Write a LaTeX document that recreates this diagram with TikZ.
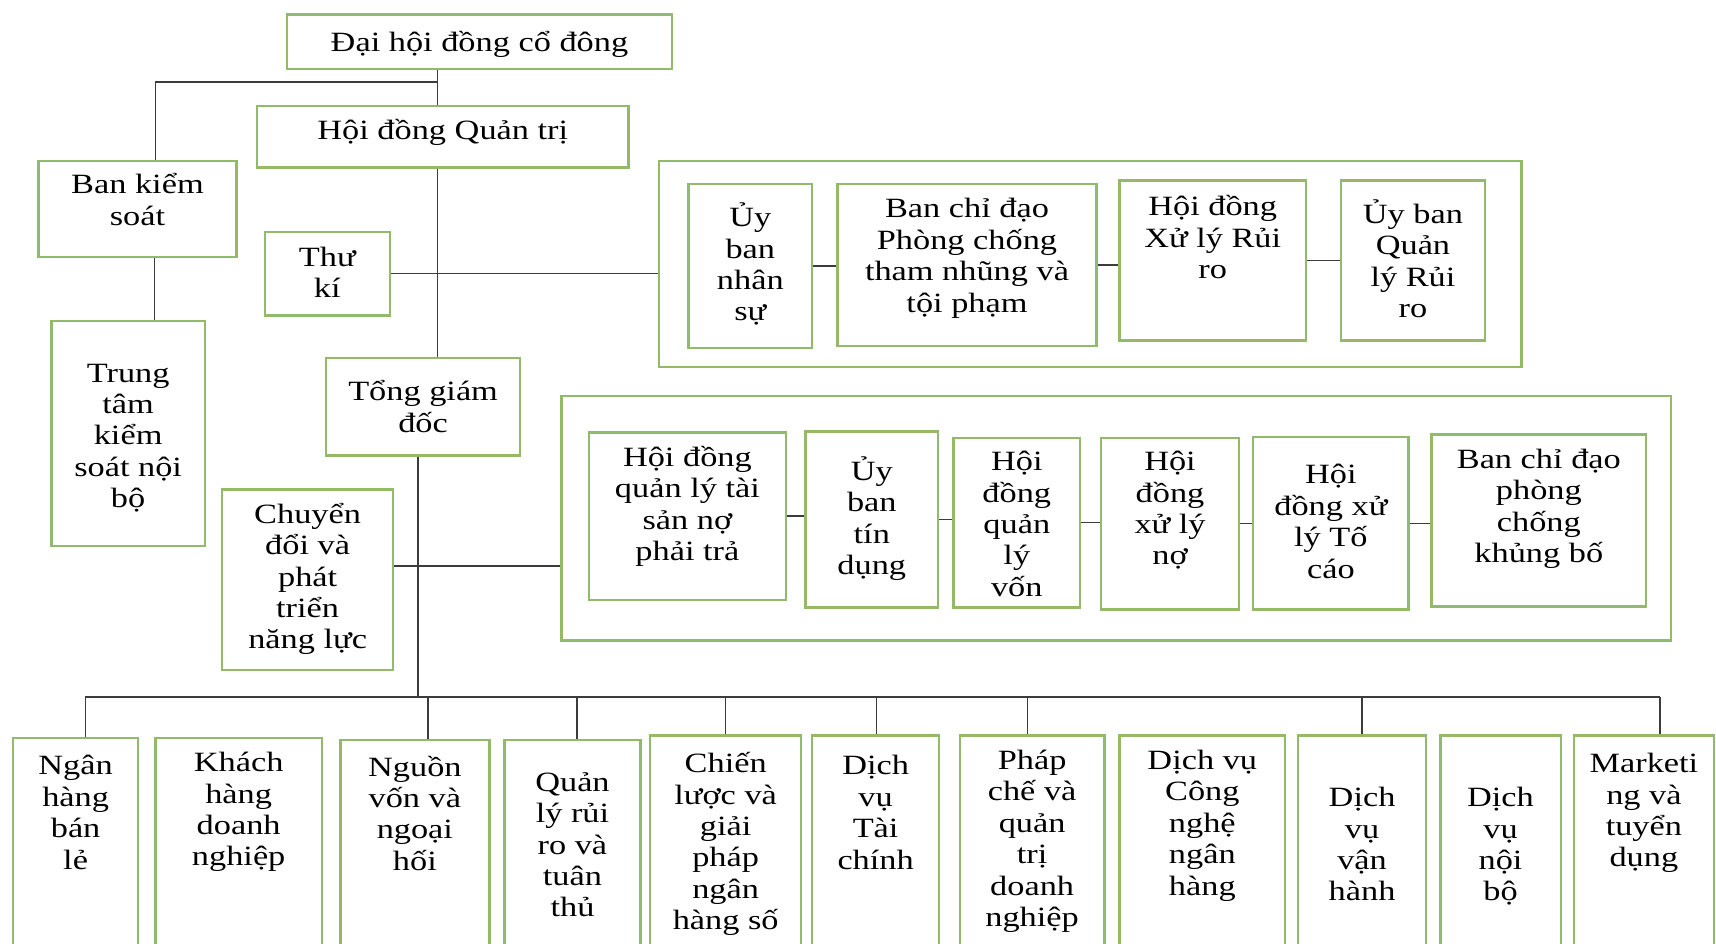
\documentclass[tikz,border=0pt]{standalone}
\usepackage{fontspec}
\setmainfont{Liberation Serif}[FakeStretch=1.23]
\usepackage{tikz}
\definecolor{boxgreen}{RGB}{146,186,104}
\definecolor{linegray}{RGB}{60,60,60}
\lineskiplimit=-100pt
% width, height, first baseline, text
\newcommand{\cell}[4]{\parbox[t][#2pt][t]{#1pt}{\centering\rule{0pt}{#3pt}#4}}
\tikzset{
  box/.style={draw=boxgreen, line width=2.2pt, inner sep=0pt, anchor=north west,
    font=\fontsize{25.5}{28.7}\selectfont},
  link/.style={draw=linegray, line width=1.3pt}
}

\begin{document}
\begin{tikzpicture}[x=1pt, y=-1pt]
			%%%%% START %%%%%
			\useasboundingbox (0,0) rectangle (1568,862);
			\fill[white] (0,0) rectangle (1568,862);
			\clip (0,0) rectangle (1568,862);
			
			\node[box] (dhcd) at (261,12) {\cell{352}{50}{34}{Đại hội đồng cổ đông}};
			\node[box] (hdqt) at (234,96) {\cell{339}{56}{30}{Hội đồng Quản trị}};
			\node[box] (bks) at (34,146) {\cell{181}{88}{30}{Ban kiểm\\soát}};
			\node[box] (ttks) at (46,292) {\cell{140}{206}{56}{Trung\\tâm\\kiểm\\soát nội\\bộ}};
			\node[box] (thuki) at (241,211) {\cell{114}{76}{31}{Thư\\kí}};
			\node[box] (tgd) at (297,326) {\cell{177}{89}{39}{Tổng giám\\đốc}};
			\node[box] (cddp) at (202,446) {\cell{156}{165}{31}{Chuyển\\đổi và\\phát\\triển\\năng lực}};
			
			% hoi dong quan tri
			\node[box, minimum width=788pt, minimum height=188pt] (pone) at (601,146) {};
			\node[box] (ubns) at (628,167) {\cell{113}{150}{39}{Ủy\\ban\\nhân\\sự}};
			\node[box] (bcdtn) at (764,167) {\cell{237}{148}{31}{Ban chỉ đạo\\Phòng chống\\tham nhũng và\\tội phạm}};
			\node[box] (hdxlrr) at (1022,164) {\cell{170}{146}{32}{Hội đồng\\Xử lý Rủi\\ro}};
			\node[box] (ubqlrr) at (1224,164) {\cell{132}{146}{39}{Ủy ban\\Quản\\lý Rủi\\ro}};
			
			% tong giam doc
			\node[box, minimum width=1014pt, minimum height=223pt] (ptwo) at (512,361) {};
			\node[box] (hdts) at (537,394) {\cell{180}{153}{31}{Hội đồng\\quản lý tài\\sản nợ\\phải trả}};
			\node[box] (ubtd) at (735,393) {\cell{121}{161}{45}{Ủy\\ban\\tín\\dụng}};
			\node[box] (hdqlv) at (870,399) {\cell{116}{155}{30}{Hội\\đồng\\quản\\lý\\vốn}};
			\node[box] (hdxln) at (1005,399) {\cell{126}{157}{30}{Hội\\đồng\\xử lý\\nợ}};
			\node[box] (hdxltc) at (1144,398) {\cell{142}{158}{43}{Hội\\đồng xử\\lý Tố\\cáo}};
			\node[box] (bcdkb) at (1307,396) {\cell{196}{157}{31}{Ban chỉ đạo\\phòng\\chống\\khủng bố}};
			
			% khoi
			\node[box] (nhbl) at (11,673) {\cell{114}{230}{34}{Ngân\\hàng\\bán\\lẻ}};
			\node[box] (khdn) at (141,673) {\cell{152}{230}{31}{Khách\\hàng\\doanh\\nghiệp}};
			\node[box] (nvnh) at (310,675) {\cell{136}{230}{33}{Nguồn\\vốn và\\ngoại\\hối}};
			\node[box] (qlrr) at (460,675) {\cell{124}{230}{47}{Quản\\lý rủi\\ro và\\tuân\\thủ}};
			\node[box] (clgp) at (593,671) {\cell{138}{230}{34}{Chiến\\lược và\\giải\\pháp\\ngân\\hàng số}};
			\node[box] (dvtc) at (741,671) {\cell{116}{230}{36}{Dịch\\vụ\\Tài\\chính}};
			\node[box] (pcqt) at (876,671) {\cell{132}{230}{31}{Pháp\\chế và\\quản\\trị\\doanh\\nghiệp}};
			\node[box] (dvcn) at (1022,671) {\cell{151}{230}{31}{Dịch vụ\\Công\\nghệ\\ngân\\hàng}};
			\node[box] (dvvh) at (1185,671) {\cell{117}{230}{65}{Dịch\\vụ\\vận\\hành}};
			\node[box] (dvnb) at (1315,671) {\cell{110}{230}{65}{Dịch\\vụ\\nội\\bộ}};
			\node[box] (mktd) at (1437,671) {\cell{128}{230}{34}{Marketi\\ng và\\tuyển\\dụng}};
			
			% connectors
			\coordinate (jtop) at (400,75);
			\coordinate (jleft) at (142,75);
			\draw[link] (dhcd.south -| jtop) -- (hdqt.north -| jtop);
			\draw[link] (jtop) -- (jleft) -- (jleft |- bks.north);
			\draw[link] ([xshift=15.5pt]bks.south) -- ([xshift=15.5pt]bks.south |- ttks.north);
			\draw[link] (hdqt.south -| jtop) -- (tgd.north -| jtop);
			\draw[link] (thuki.east) -- (thuki.east -| pone.west);
			\draw[link] ([yshift=12.5pt]cddp.east) -- ([yshift=12.5pt]cddp.east -| ptwo.west);
			
			\draw[link] (ubns.east) -- (ubns.east -| bcdtn.west);
			\draw[link] (bcdtn.east) -- (bcdtn.east -| hdxlrr.west);
			\draw[link] (hdxlrr.east) -- (hdxlrr.east -| ubqlrr.west);
			
			\draw[link] (hdts.east) -- (hdts.east -| ubtd.west);
			\draw[link] (ubtd.east) -- (ubtd.east -| hdqlv.west);
			\draw[link] (hdqlv.east) -- (hdqlv.east -| hdxln.west);
			\draw[link] (hdxln.east) -- (hdxln.east -| hdxltc.west);
			\draw[link] (hdxltc.east) -- (hdxltc.east -| bcdkb.west);
			
			\coordinate (busl) at (78,637);
			\coordinate (busr) at (1517,637);
			\draw[link] (busl) -- (busr);
			\draw[link] ([xshift=-4.5pt]tgd.south) -- ([xshift=-4.5pt]tgd.south |- busl);
			\draw[link] (busl) -- (busl |- nhbl.north);
			\draw[link] ([xshift=12pt]nvnh.north) -- ([xshift=12pt]nvnh.north |- busl);
			\draw[link] ([xshift=4pt]qlrr.north) -- ([xshift=4pt]qlrr.north |- busl);
			\draw[link] (clgp.north) -- (clgp.north |- busl);
			\draw[link] ([xshift=1pt]dvtc.north) -- ([xshift=1pt]dvtc.north |- busl);
			\draw[link] ([xshift=-4pt]pcqt.north) -- ([xshift=-4pt]pcqt.north |- busl);
			\draw[link] (dvvh.north) -- (dvvh.north |- busl);
			\draw[link] (busr) -- (busr |- mktd.north);
			%%%%% END %%%%%
\end{tikzpicture}
\end{document}
